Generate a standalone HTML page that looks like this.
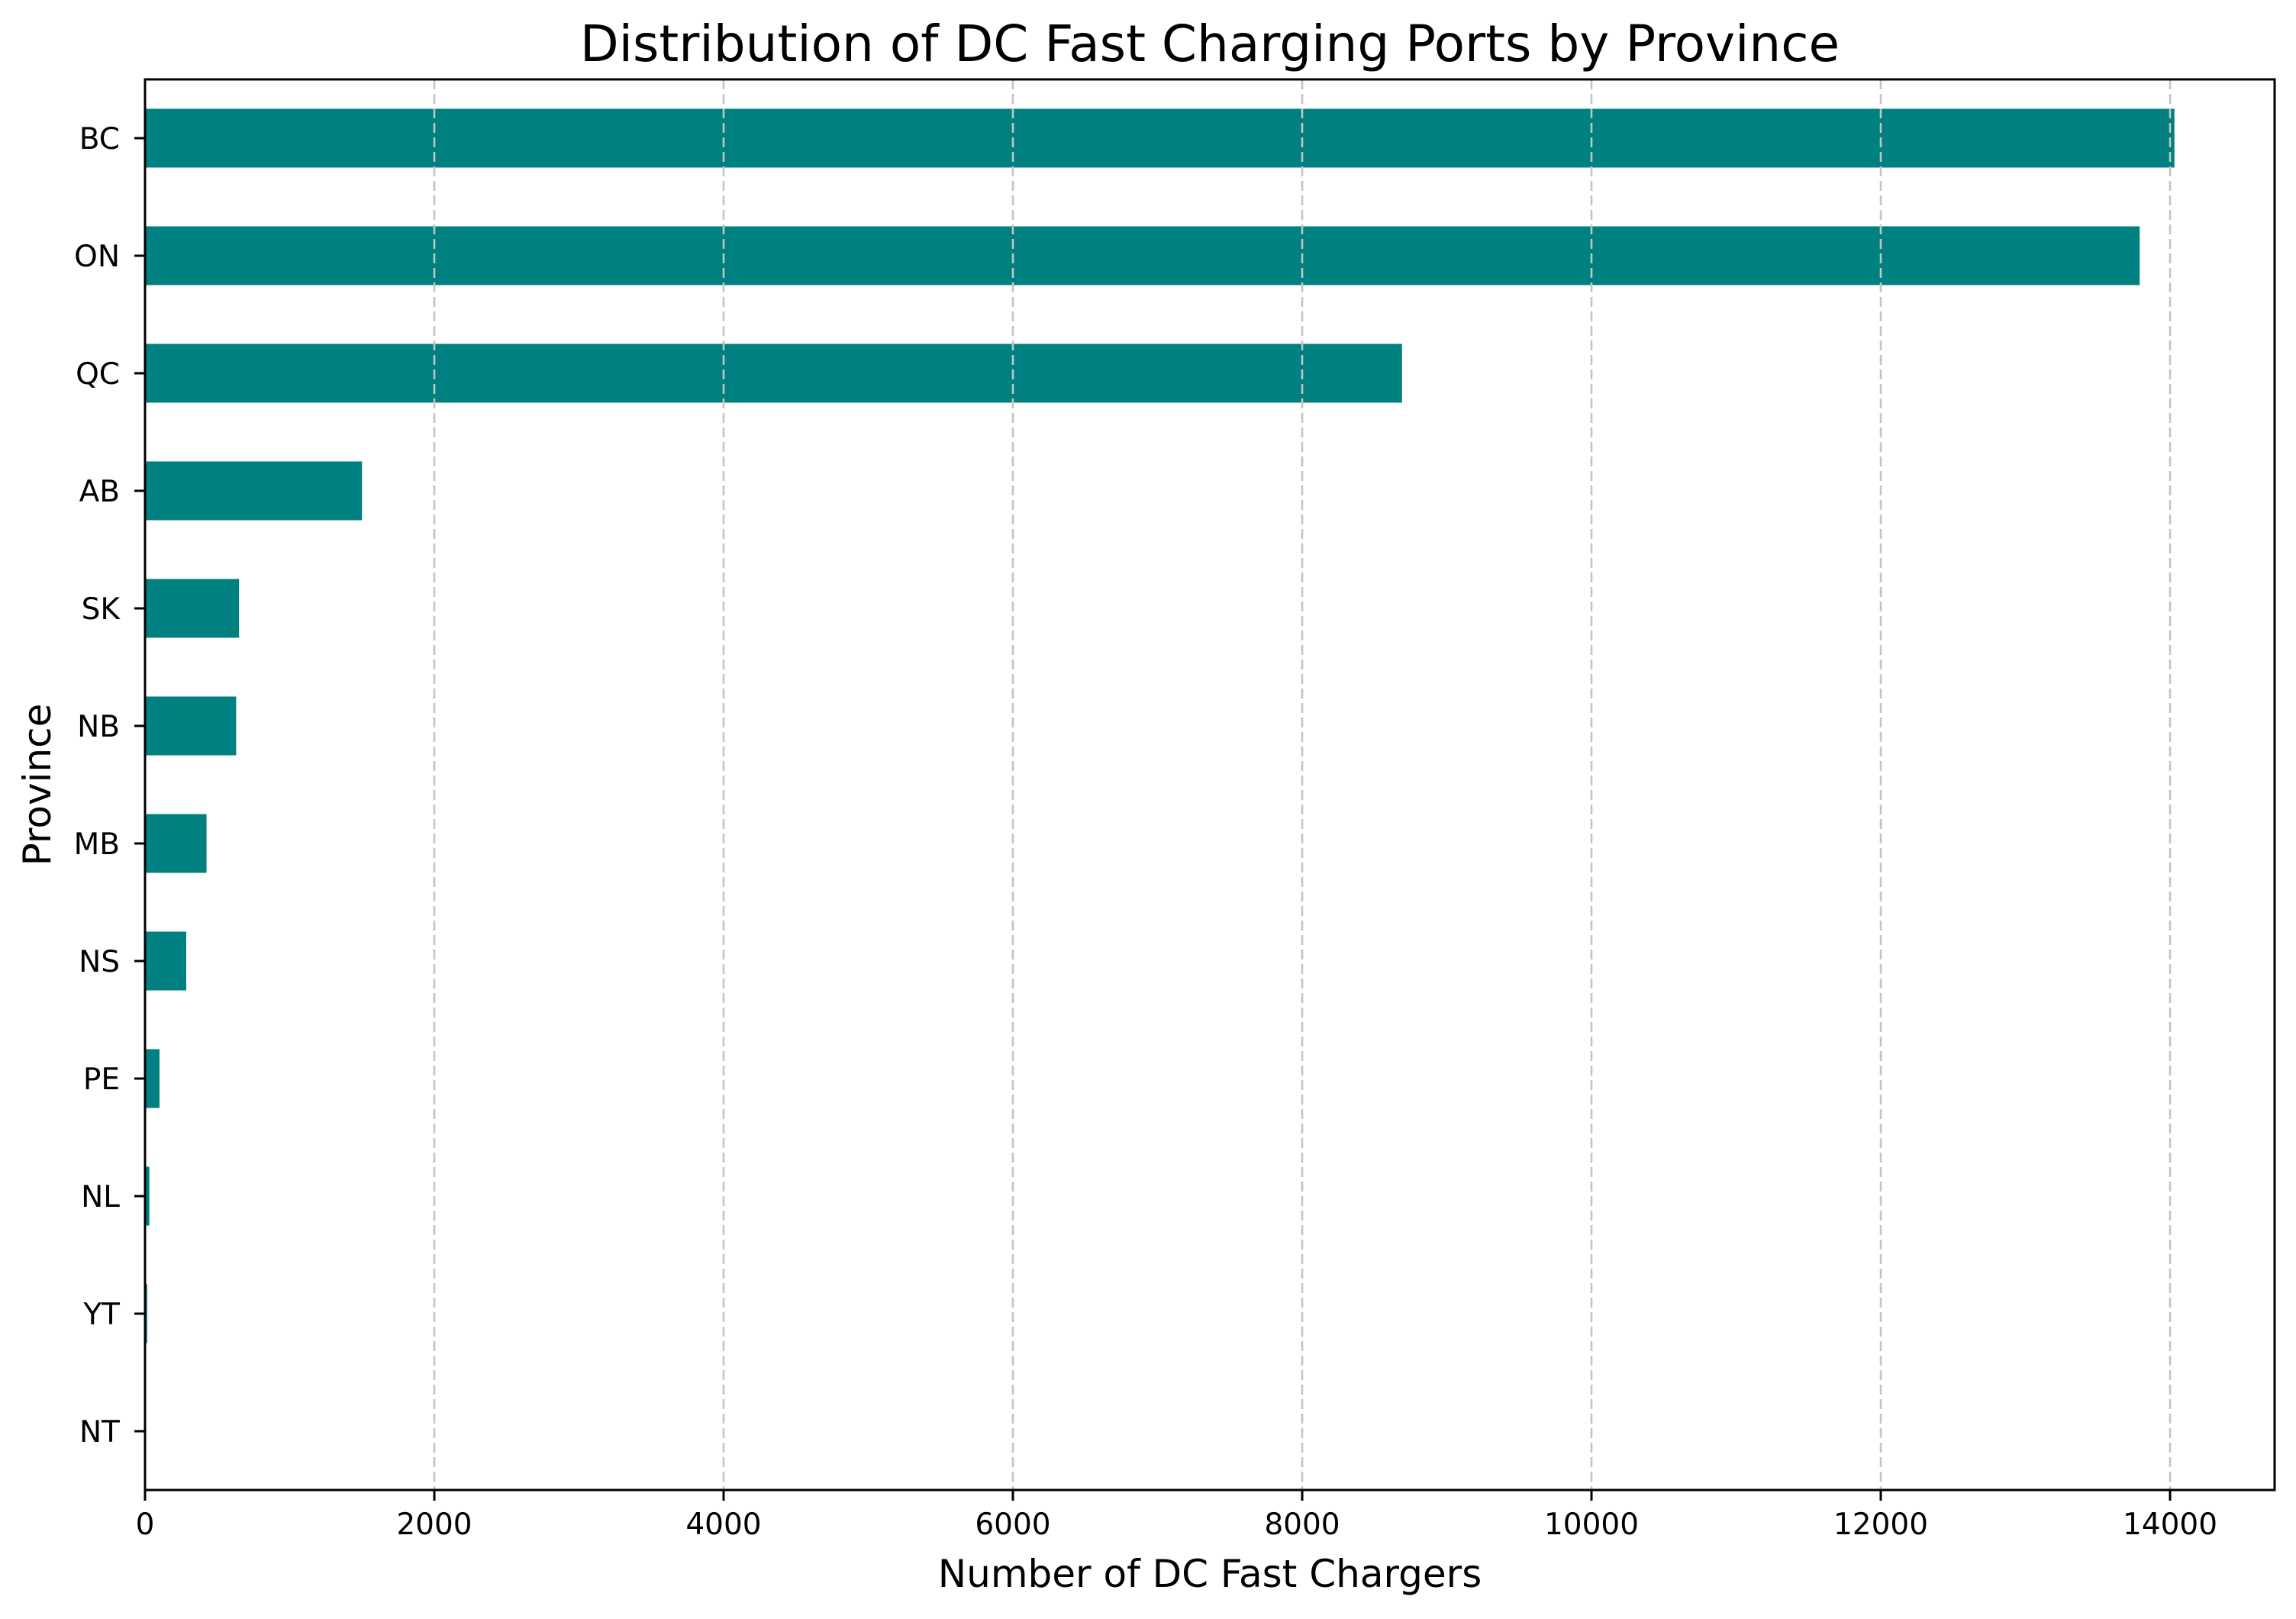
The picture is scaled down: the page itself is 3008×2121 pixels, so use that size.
<!DOCTYPE html>
<html><head><meta charset="utf-8"><style>
html,body{margin:0;padding:0;background:#fff}
svg text{font-family:"DejaVu Sans","Liberation Sans",sans-serif;fill:#000}
</style></head><body>
<svg id="chart" width="3008" height="2116" viewBox="0 0 3008 2116" xmlns="http://www.w3.org/2000/svg">
<rect x="0" y="0" width="3008" height="2116" fill="#fff"/>
<g id="bars"></g>
<g id="grid"></g>
<g id="axes"></g>
<text x="1585" y="80" font-size="66" text-anchor="middle">Distribution of DC Fast Charging Ports by Province</text>
<text x="1585" y="2079" font-size="50" text-anchor="middle">Number of DC Fast Chargers</text>
<text x="0" y="0" font-size="50" text-anchor="middle" transform="translate(66,1028) rotate(-90)">Province</text>
</svg>
<script>
const categories = ["BC","ON","QC","AB","SK","NB","MB","NS","PE","NL","YT","NT"];
const values = [14030, 13790, 8690, 1500, 650, 630, 425, 285, 100, 30, 15, 2];
const xTicks = [0, 2000, 4000, 6000, 8000, 10000, 12000, 14000];
const xTickLabels = ["0","2000","4000","6000","8000","10000","12000","14000"];

const L = 190, R = 2980, T = 104, B = 1952;
const xMax = 14000 * (R - L) / (2843 - L);
function xs(v){ return L + v / xMax * (R - L); }
const band = (B - T) / categories.length;
function ys(i){ return T + (i + 0.5) * band; }
const NS = "http://www.w3.org/2000/svg";
function mk(tag, attrs, parent){ const e = document.createElementNS(NS, tag); for (const k in attrs) e.setAttribute(k, attrs[k]); parent.appendChild(e); return e; }

const gb = document.getElementById('bars');
categories.forEach((c, i) => {
  const h = band * 0.5;
  const r = mk('rect', {x: xs(0), y: ys(i) - h/2, width: Math.max(0, xs(values[i]) - xs(0)), height: h, fill: '#008080'}, gb);
  
  
});

const gg = document.getElementById('grid');
xTicks.forEach((t, i) => {
  if (t === 0) return;
  const l = mk('line', {x1: xs(t), x2: xs(t), y1: T, y2: B, stroke: '#c4c4c4', 'stroke-width': 2.6, 'stroke-dasharray': '13,6'}, gg);
  
  
});

const ga = document.getElementById('axes');
const frame = mk('rect', {x: L, y: T, width: R - L, height: B - T, fill: 'none', stroke: '#000', 'stroke-width': 3}, ga);


xTicks.forEach((t, i) => {
  const tk = mk('line', {x1: xs(t), x2: xs(t), y1: B, y2: B + 14, stroke: '#000', 'stroke-width': 3}, ga);
  
  
  const tx = mk('text', {x: xs(t), y: B + 58, 'font-size': 39, 'text-anchor': 'middle'}, ga);
  tx.textContent = xTickLabels[i];
  
  
});
categories.forEach((c, i) => {
  const tk = mk('line', {x1: L - 14, x2: L, y1: ys(i), y2: ys(i), stroke: '#000', 'stroke-width': 3}, ga);
  
  
  const tx = mk('text', {x: L - 33, y: ys(i) + 14, 'font-size': 39, 'text-anchor': 'end'}, ga);
  tx.textContent = c;
  
  
});
</script>
</body></html>
